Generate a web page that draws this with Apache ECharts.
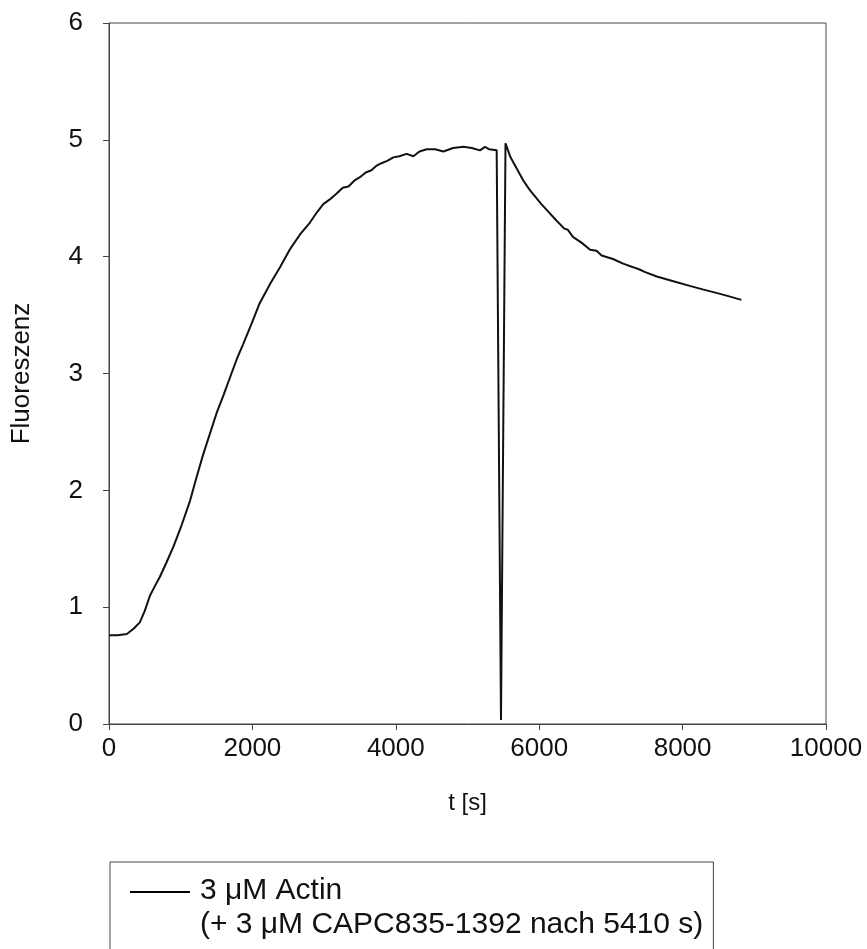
<!DOCTYPE html>
<html>
<head>
<meta charset="utf-8">
<title>Fluoreszenz</title>
<script src="https://cdn.jsdelivr.net/npm/echarts@6/dist/echarts.min.js"></script>
<style>
  html, body { margin: 0; padding: 0; background: #fff; }
  #chart { width: 867px; height: 949px; }
</style>
</head>
<body>
<div id="chart"></div>
<script>
  // time axis in seconds
  const timeS = [
    0, 120, 250, 350, 430, 500, 572, 640, 710, 800,
    900, 1000, 1130, 1220, 1315, 1400, 1500, 1600, 1690, 1780,
    1870, 1990, 2100, 2250, 2385, 2520, 2664, 2800, 2900, 2989,
    3080, 3175, 3260, 3340, 3420, 3500, 3580, 3660, 3734, 3800,
    3880, 3966, 4050, 4150, 4245, 4330, 4430, 4550, 4663, 4800,
    4943, 5060, 5174, 5244, 5300, 5407, 5467, 5530, 5600, 5690,
    5780, 5870, 5950, 6030, 6120, 6240, 6350, 6400, 6470, 6590,
    6710, 6800, 6870, 7030, 7170, 7310, 7400, 7470, 7640, 7870,
    8100, 8280, 8470, 8650, 8820
  ]
  const fluorescence = [
    0.76, 0.76, 0.77, 0.82, 0.87, 0.97, 1.10, 1.18, 1.26, 1.38,
    1.52, 1.68, 1.91, 2.11, 2.31, 2.47, 2.66, 2.82, 2.97, 3.12,
    3.25, 3.43, 3.60, 3.77, 3.91, 4.06, 4.19, 4.29, 4.38, 4.45,
    4.49, 4.54, 4.59, 4.60, 4.65, 4.68, 4.72, 4.74, 4.78, 4.80,
    4.82, 4.85, 4.86, 4.88, 4.86, 4.90, 4.92, 4.92, 4.90, 4.93,
    4.94, 4.93, 4.91, 4.94, 4.92, 4.91, 0.035, 4.97, 4.85, 4.75,
    4.65, 4.57, 4.51, 4.45, 4.39, 4.31, 4.24, 4.23, 4.17, 4.12,
    4.06, 4.05, 4.01, 3.98, 3.94, 3.91, 3.89, 3.87, 3.83, 3.79,
    3.75, 3.72, 3.69, 3.66, 3.63
  ]
  const xTicks = [0, 2000, 4000, 6000, 8000, 10000]
  const yTicks = [0, 1, 2, 3, 4, 5, 6]
  const seriesName = '3 μM Actin\n(+ 3 μM CAPC835-1392 nach 5410 s)'

  const font = "Arial, 'Liberation Sans', sans-serif"
  const myChart = echarts.init(document.getElementById('chart'))

  let option = {
    animation: false,
    backgroundColor: '#fff',
    grid: {
      left: 109,
      right: 41,
      top: 23,
      bottom: 225,
      show: true,
      borderColor: '#444',
      borderWidth: 1
    },
    legend: {
      left: 110,
      top: 862,
      orient: 'vertical',
      data: [seriesName],
      // line sample sits at the top of the icon box, next to the first text line
      icon: 'path://M0,0H60V2H0Z M0,34H0.05V34.05H0Z',
      itemWidth: 60,
      itemHeight: 34,
      padding: [12, 10, 30, 20],
      borderColor: '#444',
      borderWidth: 1,
      textStyle: {
        fontFamily: font,
        fontSize: 30,
        color: '#111',
        lineHeight: 34,
        padding: [0, 0, 0, 5]
      }
    },
    xAxis: {
      type: 'value',
      min: xTicks[0],
      max: xTicks[xTicks.length - 1],
      interval: xTicks[1] - xTicks[0],
      name: 't [s]',
      nameLocation: 'middle',
      nameGap: 67,
      nameTextStyle: { fontFamily: font, fontSize: 24, color: '#111' },
      axisLine: { show: true, lineStyle: { color: '#444', width: 1 } },
      axisTick: { show: true, length: 6, lineStyle: { color: '#444' } },
      axisLabel: {
        margin: 12,
        fontFamily: font,
        fontSize: 26,
        color: '#111',
        formatter: value => String(value)
      },
      splitLine: { show: false }
    },
    yAxis: {
      type: 'value',
      min: yTicks[0],
      max: yTicks[yTicks.length - 1],
      interval: yTicks[1] - yTicks[0],
      name: 'Fluoreszenz',
      nameLocation: 'middle',
      nameRotate: 90,
      nameGap: 74,
      nameTextStyle: { fontFamily: font, fontSize: 26, color: '#111' },
      axisLine: { show: true, lineStyle: { color: '#444', width: 1 } },
      axisTick: { show: true, length: 6, lineStyle: { color: '#444' } },
      axisLabel: { margin: 26, fontFamily: font, fontSize: 26, color: '#111' },
      splitLine: { show: false }
    },
    series: [{
      name: seriesName,
      type: 'line',
      symbol: 'none',
      color: '#000',
      lineStyle: { color: '#111', width: 2 },
      data: timeS.map((t, i) => [t, fluorescence[i]])
    }]
  }
  myChart.setOption(option)
</script>
</body>
</html>
